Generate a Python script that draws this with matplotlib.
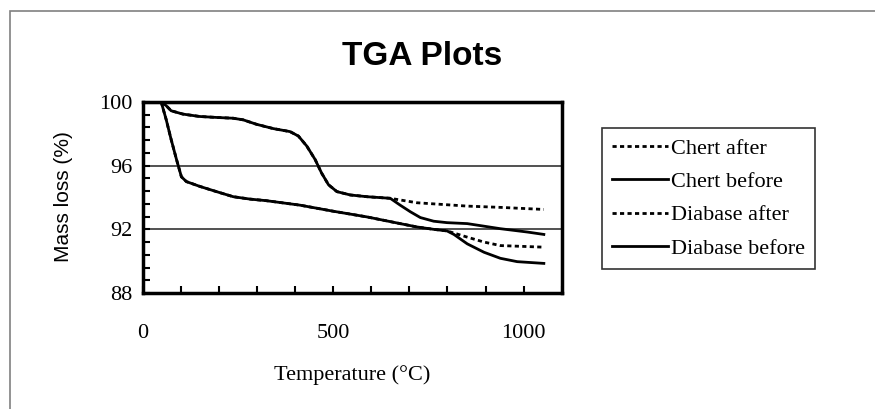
import matplotlib
matplotlib.use('Agg')
import matplotlib.pyplot as plt
from matplotlib.ticker import MultipleLocator
from matplotlib.patches import Rectangle

# ******************** DATA ********************
chert_before_T = [49, 62, 75, 106, 150, 194, 238, 264, 299, 343, 387, 409, 431, 453, 470, 488, 510, 545, 589, 650,
                  676, 703, 729, 764, 799, 852, 939, 1010, 1053]
chert_before_m = [100.0, 99.77, 99.45, 99.24, 99.09, 99.03, 98.98, 98.88, 98.6, 98.33, 98.14, 97.86, 97.23, 96.38,
                  95.53, 94.8, 94.37, 94.16, 94.05, 93.95, 93.52, 93.1, 92.74, 92.51, 92.42, 92.36, 92.04, 91.83, 91.68]

chert_after_T = [49, 62, 75, 106, 150, 194, 238, 264, 299, 343, 387, 409, 431, 453, 470, 488, 510, 545, 589, 650,
                 720, 852, 939, 1053]
chert_after_m = [100.0, 99.77, 99.45, 99.24, 99.09, 99.03, 98.98, 98.88, 98.6, 98.33, 98.14, 97.86, 97.23, 96.38,
                 95.53, 94.8, 94.37, 94.16, 94.05, 93.95, 93.67, 93.46, 93.38, 93.25]

diabase_before_T = [49, 62, 75, 89, 102, 115, 150, 194, 238, 282, 325, 413, 500, 589, 676, 720, 764, 799,
                    817, 852, 896, 939, 983, 1053]
diabase_before_m = [100.0, 98.9, 97.65, 96.4, 95.3, 95.0, 94.7, 94.37, 94.05, 93.9, 93.8, 93.52, 93.14, 92.78,
                    92.36, 92.15, 92.0, 91.9, 91.68, 91.09, 90.56, 90.18, 89.97, 89.86]

diabase_after_T = [49, 62, 75, 89, 102, 115, 150, 194, 238, 282, 325, 413, 500, 589, 676, 720, 764, 799,
                   852, 896, 939, 1053]
diabase_after_m = [100.0, 98.9, 97.65, 96.4, 95.3, 95.0, 94.7, 94.37, 94.05, 93.9, 93.8, 93.52, 93.14, 92.78,
                   92.36, 92.15, 92.0, 91.9, 91.51, 91.2, 90.98, 90.88]

y_ticks = [88, 92, 96, 100]
x_ticks = [0, 500, 1000]

# ******************** FIGURE ********************
fig = plt.figure(figsize=(8.75, 4.09), dpi=100)
ax = fig.add_axes([0.1629, 0.2836, 0.4791, 0.467])

dot = (0, (1.5, 1.2))
ax.plot(chert_after_T, chert_after_m, color='black', lw=2, linestyle=dot, label='Chert after')
ax.plot(chert_before_T, chert_before_m, color='black', lw=2, label='Chert before')
ax.plot(diabase_after_T, diabase_after_m, color='black', lw=2, linestyle=dot, label='Diabase after')
ax.plot(diabase_before_T, diabase_before_m, color='black', lw=2, label='Diabase before')

# horizontal gridlines at major ticks
for v in y_ticks[1:]:
    ax.axhline(v, color='#333333', lw=1.2 if v < 100 else 3, zorder=0)

ax.set_xlim(0, 1100)
ax.set_ylim(88, 100)
ax.set_xticks(x_ticks)
ax.set_yticks(y_ticks)
ax.xaxis.set_minor_locator(MultipleLocator(100))
ax.yaxis.set_minor_locator(MultipleLocator(0.8))

serif = 'Liberation Serif'
ax.tick_params(axis='x', which='both', direction='in', length=5, width=1.5, pad=22)
ax.tick_params(axis='y', which='both', direction='in', length=5, width=1.5, pad=7)
for lab in ax.get_xticklabels() + ax.get_yticklabels():
    lab.set_fontfamily(serif)
    lab.set_fontsize(16)

for s in ax.spines.values():
    s.set_linewidth(2.5)
    s.set_color('black')

ax.set_xlabel('Temperature (°C)', fontfamily=serif, fontsize=16, labelpad=16)
fig.text(0.073, 0.52, 'Mass loss (%)', rotation=90, ha='center', va='center',
         fontfamily='Liberation Sans', fontsize=15)
fig.text(0.482, 0.862, 'TGA Plots', ha='center', va='center',
         fontfamily='Liberation Sans', fontweight='bold', fontsize=24)

leg = fig.legend(loc='upper left', bbox_to_anchor=(602 / 875, 1 - 128 / 409),
                 prop={'family': serif, 'size': 16}, frameon=True, fancybox=False,
                 handlelength=2.5, handletextpad=0.15, labelspacing=0.58, borderpad=0.45,
                 borderaxespad=0)
leg.get_frame().set_edgecolor('black')
leg.get_frame().set_linewidth(1.2)

# outer chart border (thin gray)
fig.patches.append(Rectangle((10 / 875, -0.1), 1.1, 1 - 11 / 409 + 0.1, transform=fig.transFigure,
                             fill=False, edgecolor='#808080', lw=1.2))

fig.savefig('out.png', dpi=100)
